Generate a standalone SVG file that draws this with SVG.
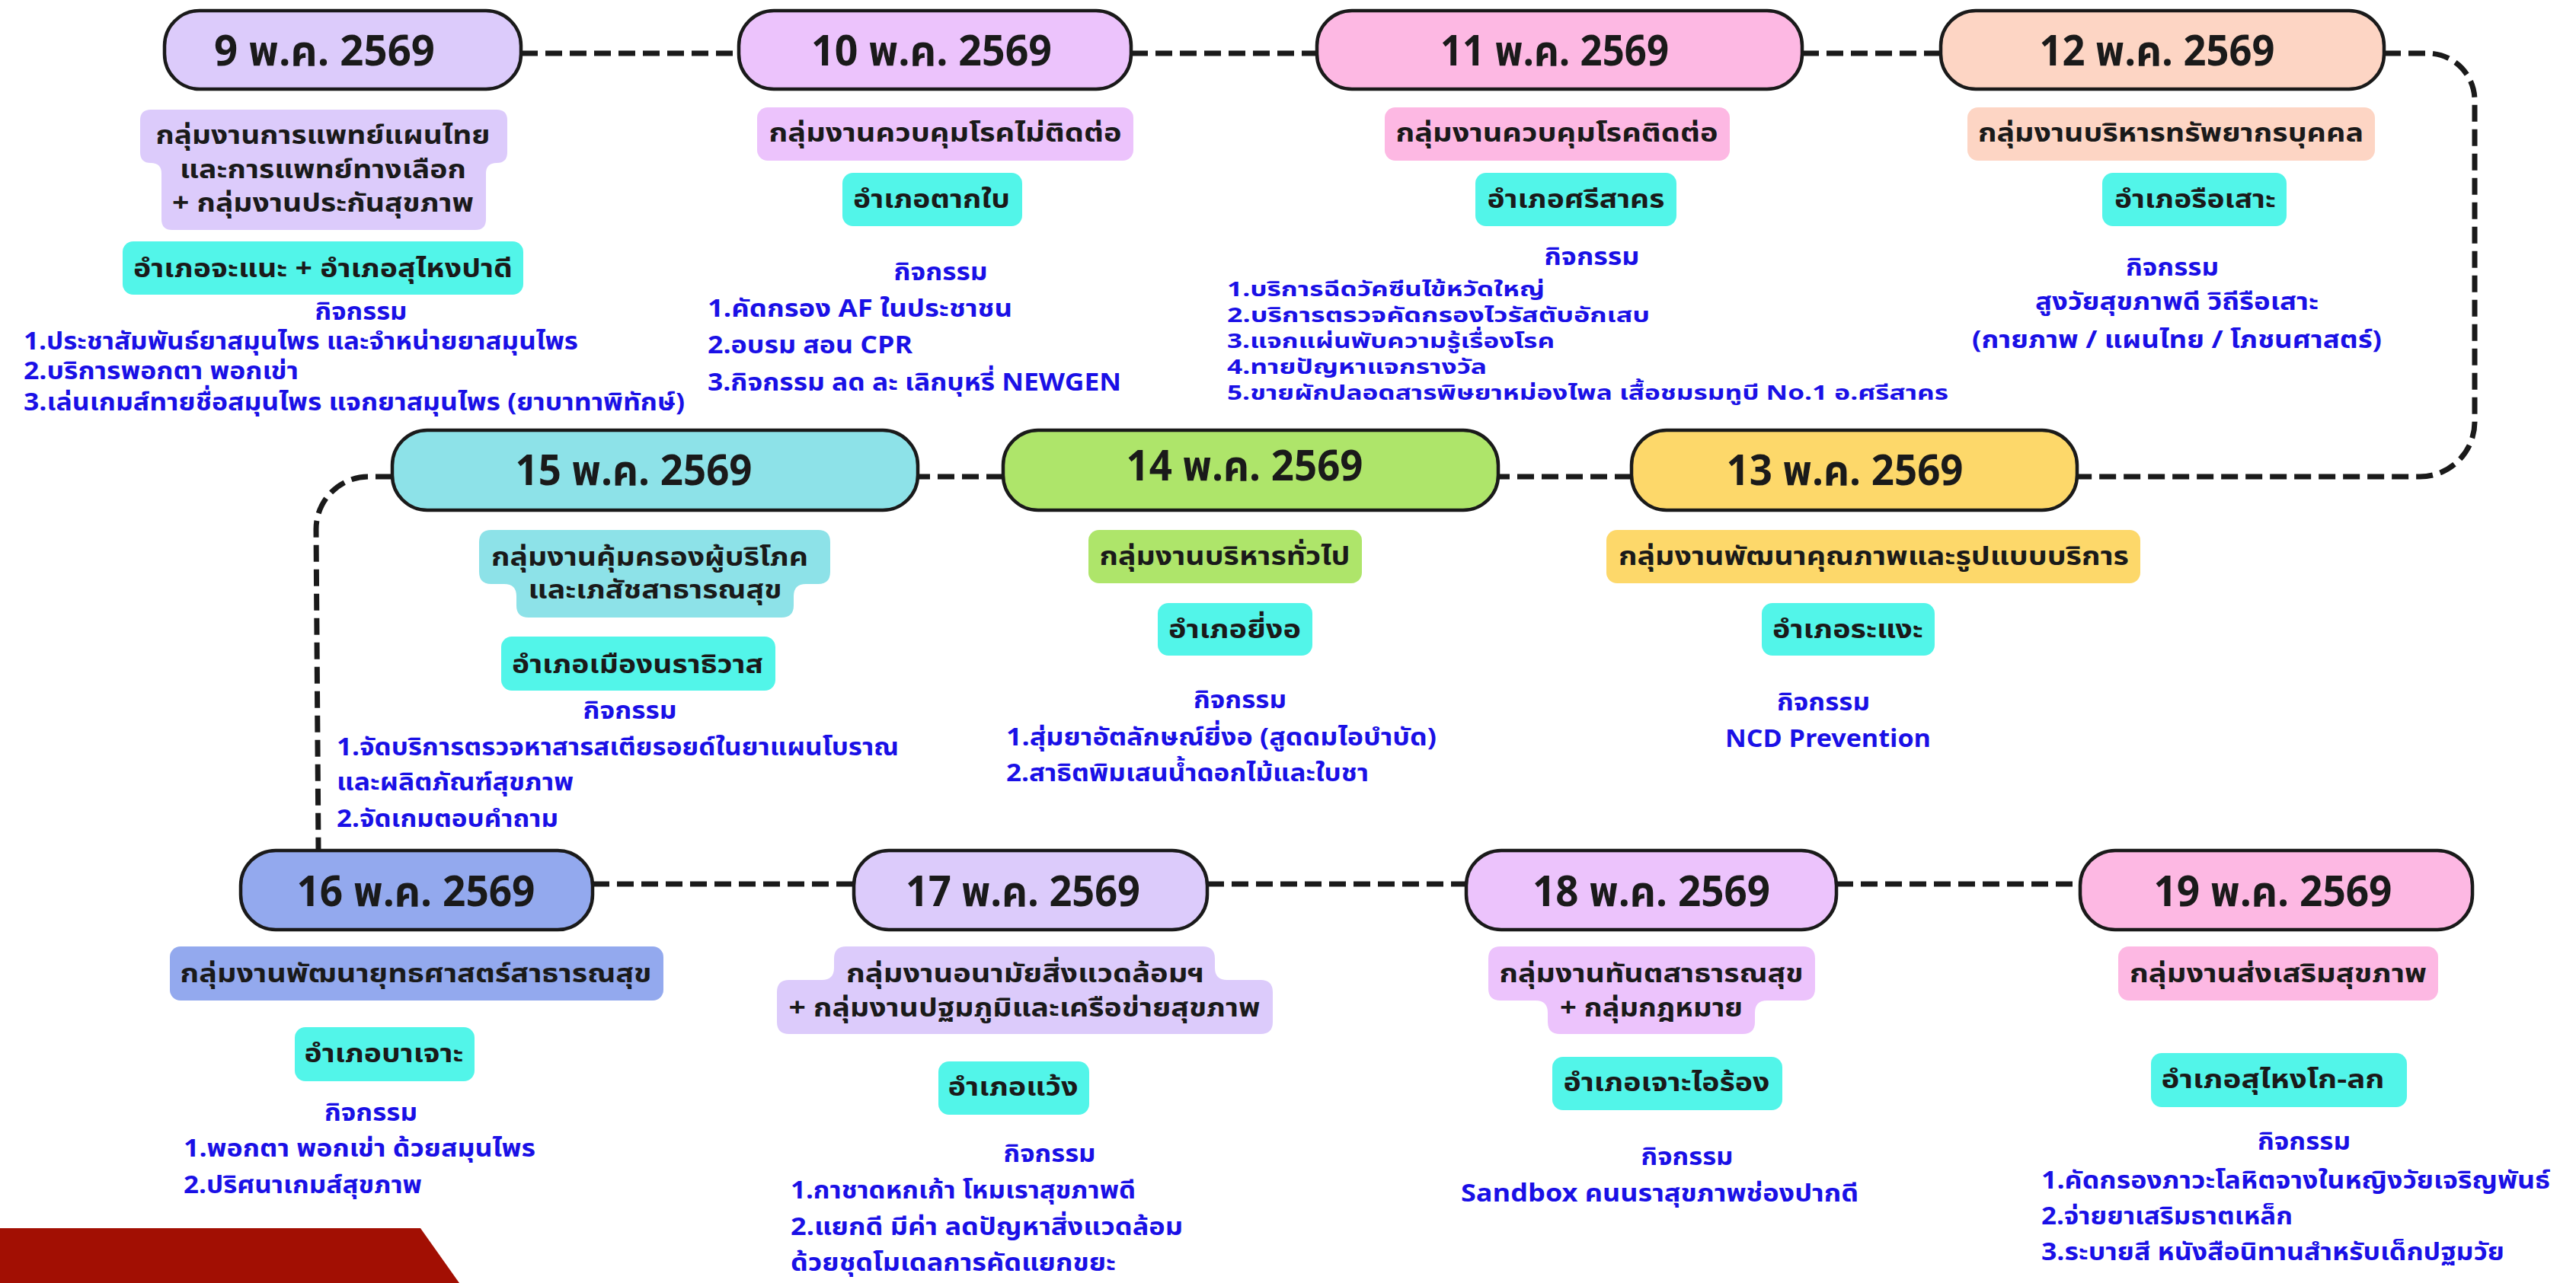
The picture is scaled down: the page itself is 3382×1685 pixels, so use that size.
<svg xmlns="http://www.w3.org/2000/svg" width="3382" height="1685" viewBox="0 0 3382 1685">
<style>
text{font-family:'Noto Sans Thai','Noto Sans','DejaVu Sans',sans-serif;font-weight:bold}
.pill{stroke:#1a1a1a;stroke-width:4.5}
.date{font-size:55px;fill:#1a1a1a;text-anchor:middle}
.grp{font-size:34px;fill:#1a1a1a;text-anchor:middle}
.act{font-size:32px;fill:#1a10e6}
.sm{font-size:27px}
.mid{text-anchor:middle}
.dist{fill:#52f5e9}
.conn{fill:none;stroke:#1a1a1a;stroke-width:7;stroke-dasharray:22 10}
</style>
<rect width="3382" height="1685" fill="#ffffff"/>
<polygon points="0,1613 552,1613 603,1685 0,1685" fill="#a20f03"/>
<g id="connectors">
<path class="conn" d="M684,70 H970"/>
<path class="conn" d="M1485,70 H1729"/>
<path class="conn" d="M2366,70 H2548"/>
<path class="conn" d="M3130,70 H3187 A62,62 0 0 1 3249,132 V554 A72,72 0 0 1 3177,626 H2727"/>
<path class="conn" d="M2142,626 H1967"/>
<path class="conn" d="M1317,626 H1205"/>
<path class="conn" d="M515,626 H484 A69,69 0 0 0 415,695 L418,1117"/>
<path class="conn" d="M778,1161 H1121"/>
<path class="conn" d="M1585,1161 H1925"/>
<path class="conn" d="M2411,1161 H2731"/>
</g>
<g id="node-9">
<rect class="pill" x="216" y="14" width="468" height="103" rx="46" fill="#dccbfb"/>
<text class="date" x="426" y="86" textLength="290" lengthAdjust="spacingAndGlyphs">9 พ.ค. 2569</text>
<path d="M198,144 H652 Q666,144 666,158 V200 Q666,214 652,214 Q638,214 638,228 V288 Q638,302 624,302 H226 Q212,302 212,288 V228 Q212,214 198,214 Q184,214 184,200 V158 Q184,144 198,144 Z" fill="#dccbfb"/>
<text class="grp" x="424" y="189" textLength="439" lengthAdjust="spacingAndGlyphs">กลุ่มงานการแพทย์แผนไทย</text>
<text class="grp" x="424" y="234" textLength="376" lengthAdjust="spacingAndGlyphs">และการแพทย์ทางเลือก</text>
<text class="grp" x="424" y="278" textLength="396" lengthAdjust="spacingAndGlyphs">+ กลุ่มงานประกันสุขภาพ</text>
<rect class="dist" x="161" y="317" width="526" height="70" rx="14"/>
<text class="grp" x="424" y="364" textLength="498" lengthAdjust="spacingAndGlyphs">อำเภอจะแนะ + อำเภอสุไหงปาดี</text>
<text class="act mid" x="474" y="420" textLength="121" lengthAdjust="spacingAndGlyphs">กิจกรรม</text>
<text class="act" x="31" y="459" textLength="728" lengthAdjust="spacingAndGlyphs">1.ประชาสัมพันธ์ยาสมุนไพร และจำหน่ายยาสมุนไพร</text>
<text class="act" x="31" y="498" textLength="361" lengthAdjust="spacingAndGlyphs">2.บริการพอกตา พอกเข่า</text>
<text class="act" x="31" y="539" textLength="868" lengthAdjust="spacingAndGlyphs">3.เล่นเกมส์ทายชื่อสมุนไพร แจกยาสมุนไพร (ยาบาทาพิทักษ์)</text>
</g>
<g id="node-10">
<rect class="pill" x="970" y="14" width="515" height="103" rx="46" fill="#ecc3fc"/>
<text class="date" x="1223" y="86" textLength="316" lengthAdjust="spacingAndGlyphs">10 พ.ค. 2569</text>
<rect x="994" y="141" width="494" height="70" rx="14" fill="#ecc3fc"/>
<text class="grp" x="1241" y="186" textLength="463" lengthAdjust="spacingAndGlyphs">กลุ่มงานควบคุมโรคไม่ติดต่อ</text>
<rect class="dist" x="1106" y="227" width="236" height="70" rx="14"/>
<text class="grp" x="1223" y="273" textLength="206" lengthAdjust="spacingAndGlyphs">อำเภอตากใบ</text>
<text class="act mid" x="1235" y="368" textLength="123" lengthAdjust="spacingAndGlyphs">กิจกรรม</text>
<text class="act" x="929" y="416" textLength="400" lengthAdjust="spacingAndGlyphs">1.คัดกรอง AF  ในประชาชน</text>
<text class="act" x="929" y="464" textLength="269" lengthAdjust="spacingAndGlyphs">2.อบรม สอน CPR</text>
<text class="act" x="929" y="513" textLength="543" lengthAdjust="spacingAndGlyphs">3.กิจกรรม ลด ละ เลิกบุหรี่ NEWGEN</text>
</g>
<g id="node-11">
<rect class="pill" x="1729" y="14" width="637" height="103" rx="46" fill="#fdb8e3"/>
<text class="date" x="2041" y="86" textLength="300" lengthAdjust="spacingAndGlyphs">11 พ.ค. 2569</text>
<rect x="1818" y="141" width="453" height="70" rx="14" fill="#fdb8e3"/>
<text class="grp" x="2044" y="186" textLength="423" lengthAdjust="spacingAndGlyphs">กลุ่มงานควบคุมโรคติดต่อ</text>
<rect class="dist" x="1937" y="227" width="264" height="70" rx="14"/>
<text class="grp" x="2069" y="273" textLength="233" lengthAdjust="spacingAndGlyphs">อำเภอศรีสาคร</text>
<text class="act mid" x="2090" y="348" textLength="125" lengthAdjust="spacingAndGlyphs">กิจกรรม</text>
<text class="act sm" x="1611" y="389" textLength="417" lengthAdjust="spacingAndGlyphs">1.บริการฉีดวัคซีนไข้หวัดใหญ่</text>
<text class="act sm" x="1611" y="423" textLength="555" lengthAdjust="spacingAndGlyphs">2.บริการตรวจคัดกรองไวรัสตับอักเสบ</text>
<text class="act sm" x="1611" y="457" textLength="430" lengthAdjust="spacingAndGlyphs">3.แจกแผ่นพับความรู้เรื่องโรค</text>
<text class="act sm" x="1611" y="491" textLength="341" lengthAdjust="spacingAndGlyphs">4.ทายปัญหาแจกรางวัล</text>
<text class="act sm" x="1611" y="525" textLength="947" lengthAdjust="spacingAndGlyphs">5.ขายผักปลอดสารพิษยาหม่องไพล เสื้อชมรมทูบี No.1 อ.ศรีสาคร</text>
</g>
<g id="node-12">
<rect class="pill" x="2548" y="14" width="582" height="103" rx="46" fill="#fdd5c4"/>
<text class="date" x="2832" y="86" textLength="309" lengthAdjust="spacingAndGlyphs">12 พ.ค. 2569</text>
<rect x="2583" y="141" width="535" height="70" rx="14" fill="#fdd5c4"/>
<text class="grp" x="2850" y="186" textLength="506" lengthAdjust="spacingAndGlyphs">กลุ่มงานบริหารทรัพยากรบุคคล</text>
<rect class="dist" x="2760" y="227" width="242" height="70" rx="14"/>
<text class="grp" x="2882" y="273" textLength="212" lengthAdjust="spacingAndGlyphs">อำเภอรือเสาะ</text>
<text class="act mid" x="2852" y="362" textLength="122" lengthAdjust="spacingAndGlyphs">กิจกรรม</text>
<text class="act mid" x="2858" y="407" textLength="372" lengthAdjust="spacingAndGlyphs">สูงวัยสุขภาพดี วิถีรือเสาะ</text>
<text class="act mid" x="2858" y="457" textLength="538" lengthAdjust="spacingAndGlyphs">(กายภาพ / แผนไทย / โภชนศาสตร์)</text>
</g>
<g id="node-13">
<rect class="pill" x="2142" y="565" width="585" height="105" rx="46" fill="#fdd86a"/>
<text class="date" x="2422" y="637" textLength="311" lengthAdjust="spacingAndGlyphs">13 พ.ค. 2569</text>
<rect x="2109" y="696" width="701" height="70" rx="14" fill="#fdd86a"/>
<text class="grp" x="2460" y="742" textLength="670" lengthAdjust="spacingAndGlyphs">กลุ่มงานพัฒนาคุณภาพและรูปแบบบริการ</text>
<rect class="dist" x="2313" y="792" width="227" height="69" rx="14"/>
<text class="grp" x="2426" y="838" textLength="198" lengthAdjust="spacingAndGlyphs">อำเภอระแงะ</text>
<text class="act mid" x="2394" y="933" textLength="122" lengthAdjust="spacingAndGlyphs">กิจกรรม</text>
<text class="act mid" x="2400" y="981" textLength="270" lengthAdjust="spacingAndGlyphs">NCD Prevention</text>
</g>
<g id="node-14">
<rect class="pill" x="1317" y="565" width="650" height="105" rx="46" fill="#aee56a"/>
<text class="date" x="1634" y="631" textLength="311" lengthAdjust="spacingAndGlyphs">14 พ.ค. 2569</text>
<rect x="1429" y="696" width="359" height="70" rx="14" fill="#aee56a"/>
<text class="grp" x="1608" y="742" textLength="329" lengthAdjust="spacingAndGlyphs">กลุ่มงานบริหารทั่วไป</text>
<rect class="dist" x="1520" y="792" width="203" height="69" rx="14"/>
<text class="grp" x="1621" y="838" textLength="174" lengthAdjust="spacingAndGlyphs">อำเภอยี่งอ</text>
<text class="act mid" x="1628" y="930" textLength="122" lengthAdjust="spacingAndGlyphs">กิจกรรม</text>
<text class="act" x="1321" y="979" textLength="565" lengthAdjust="spacingAndGlyphs">1.สุ่มยาอัตลักษณ์ยี่งอ (สูดดมไอบำบัด)</text>
<text class="act" x="1321" y="1026" textLength="476" lengthAdjust="spacingAndGlyphs">2.สาธิตพิมเสนน้ำดอกไม้และใบชา</text>
</g>
<g id="node-15">
<rect class="pill" x="515" y="565" width="690" height="105" rx="46" fill="#8de2e8"/>
<text class="date" x="832" y="637" textLength="311" lengthAdjust="spacingAndGlyphs">15 พ.ค. 2569</text>
<path d="M645,696 H1074 Q1090,696 1090,712 V751 Q1090,767 1074,767 H1058 Q1042,767 1042,783 V795 Q1042,811 1026,811 H694 Q678,811 678,795 V783 Q678,767 662,767 H645 Q629,767 629,751 V712 Q629,696 645,696 Z" fill="#8de2e8"/>
<text class="grp" x="853" y="743" textLength="416" lengthAdjust="spacingAndGlyphs">กลุ่มงานคุ้มครองผู้บริโภค</text>
<text class="grp" x="860" y="786" textLength="333" lengthAdjust="spacingAndGlyphs">และเภสัชสาธารณสุข</text>
<rect class="dist" x="658" y="836" width="360" height="71" rx="14"/>
<text class="grp" x="837" y="884" textLength="330" lengthAdjust="spacingAndGlyphs">อำเภอเมืองนราธิวาส</text>
<text class="act mid" x="827" y="944" textLength="123" lengthAdjust="spacingAndGlyphs">กิจกรรม</text>
<text class="act" x="442" y="992" textLength="738" lengthAdjust="spacingAndGlyphs">1.จัดบริการตรวจหาสารสเตียรอยด์ในยาแผนโบราณ</text>
<text class="act" x="442" y="1038" textLength="311" lengthAdjust="spacingAndGlyphs">และผลิตภัณฑ์สุขภาพ</text>
<text class="act" x="442" y="1086" textLength="291" lengthAdjust="spacingAndGlyphs">2.จัดเกมตอบคำถาม</text>
</g>
<g id="node-16">
<rect class="pill" x="316" y="1117" width="462" height="104" rx="46" fill="#93a9ee"/>
<text class="date" x="546" y="1190" textLength="313" lengthAdjust="spacingAndGlyphs">16 พ.ค. 2569</text>
<rect x="223" y="1243" width="648" height="71" rx="14" fill="#93a9ee"/>
<text class="grp" x="546" y="1290" textLength="619" lengthAdjust="spacingAndGlyphs">กลุ่มงานพัฒนายุทธศาสตร์สาธารณสุข</text>
<rect class="dist" x="387" y="1349" width="236" height="71" rx="14"/>
<text class="grp" x="504" y="1395" textLength="209" lengthAdjust="spacingAndGlyphs">อำเภอบาเจาะ</text>
<text class="act mid" x="487" y="1472" textLength="122" lengthAdjust="spacingAndGlyphs">กิจกรรม</text>
<text class="act" x="241" y="1519" textLength="462" lengthAdjust="spacingAndGlyphs">1.พอกตา พอกเข่า ด้วยสมุนไพร</text>
<text class="act" x="241" y="1567" textLength="313" lengthAdjust="spacingAndGlyphs">2.ปริศนาเกมส์สุขภาพ</text>
</g>
<g id="node-17">
<rect class="pill" x="1121" y="1117" width="464" height="104" rx="46" fill="#dccbfb"/>
<text class="date" x="1343" y="1190" textLength="308" lengthAdjust="spacingAndGlyphs">17 พ.ค. 2569</text>
<path d="M1111,1243 H1579 Q1595,1243 1595,1259 V1271 Q1595,1287 1611,1287 H1655 Q1671,1287 1671,1303 V1342 Q1671,1358 1655,1358 H1036 Q1020,1358 1020,1342 V1303 Q1020,1287 1036,1287 H1079 Q1095,1287 1095,1271 V1259 Q1095,1243 1111,1243 Z" fill="#dccbfb"/>
<text class="grp" x="1346" y="1290" textLength="470" lengthAdjust="spacingAndGlyphs">กลุ่มงานอนามัยสิ่งแวดล้อมฯ</text>
<text class="grp" x="1345" y="1335" textLength="619" lengthAdjust="spacingAndGlyphs">+ กลุ่มงานปฐมภูมิและเครือข่ายสุขภาพ</text>
<rect class="dist" x="1232" y="1394" width="198" height="70" rx="14"/>
<text class="grp" x="1330" y="1439" textLength="171" lengthAdjust="spacingAndGlyphs">อำเภอแว้ง</text>
<text class="act mid" x="1378" y="1526" textLength="121" lengthAdjust="spacingAndGlyphs">กิจกรรม</text>
<text class="act" x="1038" y="1574" textLength="453" lengthAdjust="spacingAndGlyphs">1.กาชาดหกเก้า โหมเราสุขภาพดี</text>
<text class="act" x="1038" y="1622" textLength="515" lengthAdjust="spacingAndGlyphs">2.แยกดี มีค่า ลดปัญหาสิ่งแวดล้อม</text>
<text class="act" x="1038" y="1669" textLength="427" lengthAdjust="spacingAndGlyphs">ด้วยชุดโมเดลการคัดแยกขยะ</text>
</g>
<g id="node-18">
<rect class="pill" x="1925" y="1117" width="486" height="104" rx="46" fill="#ecc3fc"/>
<text class="date" x="2168" y="1190" textLength="312" lengthAdjust="spacingAndGlyphs">18 พ.ค. 2569</text>
<path d="M1970,1243 H2367 Q2383,1243 2383,1259 V1298 Q2383,1314 2367,1314 H2320 Q2304,1314 2304,1330 V1342 Q2304,1358 2288,1358 H2048 Q2032,1358 2032,1342 V1330 Q2032,1314 2016,1314 H1970 Q1954,1314 1954,1298 V1259 Q1954,1243 1970,1243 Z" fill="#ecc3fc"/>
<text class="grp" x="2168" y="1290" textLength="399" lengthAdjust="spacingAndGlyphs">กลุ่มงานทันตสาธารณสุข</text>
<text class="grp" x="2168" y="1335" textLength="240" lengthAdjust="spacingAndGlyphs">+ กลุ่มกฎหมาย</text>
<rect class="dist" x="2038" y="1388" width="302" height="70" rx="14"/>
<text class="grp" x="2188" y="1433" textLength="271" lengthAdjust="spacingAndGlyphs">อำเภอเจาะไอร้อง</text>
<text class="act mid" x="2215" y="1530" textLength="121" lengthAdjust="spacingAndGlyphs">กิจกรรม</text>
<text class="act mid" x="2179" y="1578" textLength="522" lengthAdjust="spacingAndGlyphs">Sandbox คนนราสุขภาพช่องปากดี</text>
</g>
<g id="node-19">
<rect class="pill" x="2731" y="1117" width="515" height="104" rx="46" fill="#fdb8e3"/>
<text class="date" x="2984" y="1190" textLength="313" lengthAdjust="spacingAndGlyphs">19 พ.ค. 2569</text>
<rect x="2781" y="1243" width="420" height="71" rx="14" fill="#fdb8e3"/>
<text class="grp" x="2991" y="1290" textLength="390" lengthAdjust="spacingAndGlyphs">กลุ่มงานส่งเสริมสุขภาพ</text>
<rect class="dist" x="2824" y="1383" width="336" height="71" rx="14"/>
<text class="grp" x="2984" y="1429" textLength="293" lengthAdjust="spacingAndGlyphs">อำเภอสุไหงโก-ลก</text>
<text class="act mid" x="3025" y="1510" textLength="122" lengthAdjust="spacingAndGlyphs">กิจกรรม</text>
<text class="act" x="2680" y="1561" textLength="668" lengthAdjust="spacingAndGlyphs">1.คัดกรองภาวะโลหิตจางในหญิงวัยเจริญพันธ์</text>
<text class="act" x="2680" y="1608" textLength="330" lengthAdjust="spacingAndGlyphs">2.จ่ายยาเสริมธาตเหล็ก</text>
<text class="act" x="2680" y="1655" textLength="608" lengthAdjust="spacingAndGlyphs">3.ระบายสี หนังสือนิทานสำหรับเด็กปฐมวัย</text>
</g>
</svg>
